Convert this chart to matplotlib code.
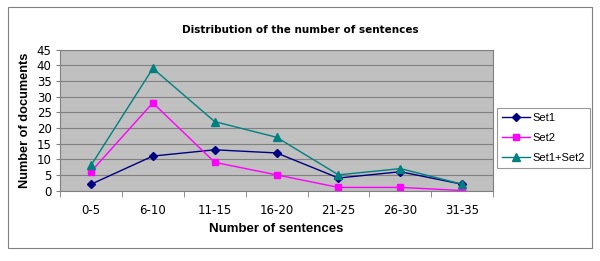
import matplotlib.pyplot as plt
from matplotlib.patches import Rectangle

plt.rcParams['font.family'] = ['Liberation Sans', 'DejaVu Sans']

# Data
categories = ["0-5", "6-10", "11-15", "16-20", "21-25", "26-30", "31-35"]
set1 = [2, 11, 13, 12, 4, 6, 2]
set2 = [6, 28, 9, 5, 1, 1, 0]
set12 = [8, 39, 22, 17, 5, 7, 2]

fig = plt.figure(figsize=(6, 2.61), dpi=100)
fig.patch.set_facecolor("white")

# outer chart border
fig.patches.append(Rectangle((0.014, 0.05), 0.972, 0.925, transform=fig.transFigure,
                             fill=False, edgecolor="#808080", linewidth=0.8))

ax = fig.add_axes([0.1, 0.27, 0.722, 0.54])
ax.set_facecolor("#C0C0C0")

x = list(range(len(categories)))
ax.plot(x, set1, color="#000080", marker="D", markersize=4, linewidth=1, label="Set1")
ax.plot(x, set2, color="#FF00FF", marker="s", markersize=5, linewidth=1, label="Set2")
ax.plot(x, set12, color="#008080", marker="^", markersize=5.5, linewidth=1, label="Set1+Set2")

ax.set_xlim(-0.5, len(categories) - 0.5)
ax.set_ylim(0, 45)
ax.set_yticks(range(0, 46, 5))
ax.set_xticks(x)
ax.set_xticklabels(categories, family="DejaVu Sans")
ax.set_yticklabels([str(v) for v in range(0, 46, 5)], family="DejaVu Sans")
ax.set_xticks([i + 0.5 for i in range(-1, len(categories))], minor=True)
ax.tick_params(axis="x", which="major", length=0, pad=10, labelsize=8.5)
ax.tick_params(axis="x", which="minor", length=4, color="#808080")
ax.tick_params(axis="y", length=3, color="#808080", pad=3, labelsize=8.5)
ax.yaxis.grid(True, color="#808080", linewidth=0.8)
ax.set_axisbelow(True)

for side in ["top", "right", "left", "bottom"]:
    ax.spines[side].set_color("#808080")

ax.set_xlabel("Number of sentences", fontsize=9.5, fontweight="bold", labelpad=4)
ax.set_ylabel("Number of documents", fontsize=9.2, fontweight="bold", labelpad=4)

fig.text(0.5, 0.875, "Distribution of the number of sentences", ha="center",
         fontsize=7.5, fontweight="bold", family="DejaVu Sans")

leg = fig.legend(loc="center left", bbox_to_anchor=(0.828, 0.47), fontsize=8,
                 frameon=True, fancybox=False, edgecolor="#808080",
                 handlelength=2.5, handletextpad=0.3, borderpad=0.45,
                 labelspacing=0.9, borderaxespad=0)
leg.get_frame().set_linewidth(0.8)

fig.savefig("out.png", dpi=100)
